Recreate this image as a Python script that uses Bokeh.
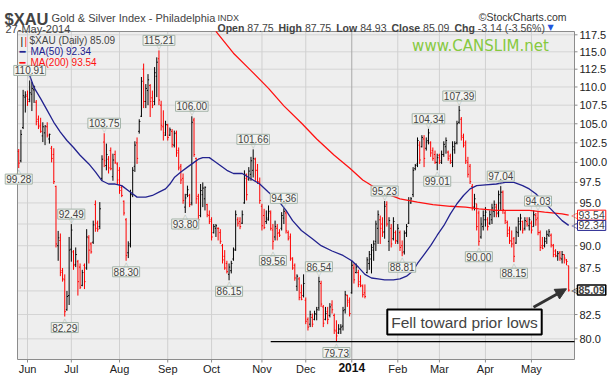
import math
from bokeh.plotting import figure
from bokeh.models import Range1d, Label, Arrow, NormalHead
from bokeh.embed import file_html
from bokeh.resources import INLINE

# ---------------- data (daily bars, index 0 = 28-May-2013 ... 251 = 27-May-2014) -------------
opens = [101.4,100.2,104.5,108.6,108.7,108.3,109.0,109.6,107.9,105.6,
104.8,103.4,103.8,104.6,103.0,101.8,101.0,97.0,90.0,90.6,
87.2,86.2,83.0,84.5,89.6,89.3,87.9,88.2,87.6,85.6,
87.8,87.5,90.9,90.2,90.4,94.8,92.6,92.2,98.0,102.6,
99.6,100.4,101.5,98.2,101.0,99.8,99.0,96.9,95.2,93.0,
89.2,90.2,96.0,99.5,102.5,104.0,106.0,112.5,108.0,109.5,
110.2,108.5,108.0,111.5,114.0,107.5,104.6,103.5,104.8,103.5,
104.0,102.2,103.8,101.5,99.5,98.0,94.5,96.0,95.9,95.0,
105.5,100.5,95.8,93.5,96.0,95.5,94.8,93.5,93.0,91.5,
92.0,92.0,91.5,90.0,88.8,88.0,86.8,87.2,88.5,89.6,
93.0,92.8,92.6,95.0,98.0,97.9,98.5,99.0,100.4,99.0,
97.5,94.6,93.5,92.8,93.0,93.8,91.8,91.0,92.0,91.5,
92.0,93.2,93.8,91.5,91.0,88.5,87.8,85.5,86.3,84.8,
84.5,84.0,82.0,81.5,82.2,82.0,82.5,83.2,85.8,83.3,
82.0,82.8,82.4,83.5,82.4,80.8,80.6,81.0,81.3,83.0,
84.5,83.8,84.8,87.5,87.0,87.0,86.0,85.5,84.8,87.0,
88.0,88.5,89.5,90.5,92.0,93.0,92.5,91.6,94.8,90.5,
92.0,90.8,91.5,90.5,91.5,90.0,89.3,91.5,92.6,95.0,
96.0,99.2,99.8,102.2,102.0,103.0,101.8,102.8,102.5,101.5,
101.0,100.0,100.9,100.0,101.0,102.0,101.3,100.8,100.0,101.6,
102.5,105.2,105.6,103.2,102.5,100.0,99.5,97.0,94.5,94.9,
93.8,91.0,92.2,93.0,93.0,92.6,93.0,94.0,94.5,93.8,
95.0,96.3,93.8,92.7,91.8,90.5,90.8,90.3,91.5,92.5,
92.8,92.0,92.8,92.3,92.6,92.2,93.5,93.2,91.5,90.0,
90.0,90.8,91.2,91.2,90.0,89.4,88.8,89.2,88.5,89.0,
88.4,87.75]

highs = [101.7,104.2,109.6,109.4,109.5,110.91,110.7,110.2,108.2,106.1,
105.8,105.2,104.8,105.2,103.7,102.1,101.8,97.1,91.7,91.4,
87.5,86.8,85.0,91.0,92.49,89.5,89.8,88.4,88.0,87.3,
88.0,91.9,91.2,90.4,92.9,95.3,92.9,95.1,100.9,103.75,
102.4,100.8,101.9,101.1,101.5,100.0,99.4,97.1,95.3,93.2,
90.5,96.6,99.4,102.7,103.2,105.6,111.4,113.3,110.4,111.8,
110.4,109.5,112.8,114.2,115.21,108.1,106.8,105.4,105.0,104.5,
104.3,104.1,104.1,101.9,99.8,98.6,96.1,97.1,96.1,106.00,
105.8,100.6,96.1,97.3,97.5,97.0,94.9,94.1,93.3,92.5,
92.5,92.1,91.9,90.2,89.5,88.3,88.0,88.3,89.8,94.1,
93.3,93.3,94.1,99.0,98.6,99.4,100.7,101.66,100.6,99.8,
98.1,94.9,94.3,94.1,94.7,94.1,92.5,92.9,92.5,91.9,
93.9,94.36,94.1,91.75,91.4,88.7,88.0,86.8,86.5,85.7,
86.8,84.3,82.2,82.9,82.6,82.9,83.3,86.54,86.1,83.5,
83.3,83.3,83.7,84.0,82.6,81.9,81.5,81.5,83.3,85.0,
84.6,84.3,88.3,88.0,88.0,87.3,86.7,85.7,85.7,88.7,
89.4,90.2,90.6,92.9,94.1,93.5,93.3,95.23,95.2,93.3,
92.5,93.3,91.75,92.5,91.75,90.6,91.75,92.5,95.7,95.7,
99.4,99.8,103.2,102.7,103.5,103.5,103.2,104.34,102.7,101.9,
101.5,101.1,101.1,101.5,102.7,103.2,101.5,101.1,102.7,102.7,
105.4,107.39,105.9,103.7,102.8,100.7,99.8,97.3,96.1,94.9,
94.1,93.3,94.1,94.5,93.3,94.1,94.9,95.3,94.9,96.5,
97.04,96.5,94.1,92.9,92.2,91.75,91.0,92.2,93.3,93.7,
92.9,93.3,93.3,93.3,92.9,94.1,93.8,94.03,91.75,91.0,
91.0,91.75,91.9,91.4,90.2,89.6,89.4,89.4,89.4,89.0,
88.5,87.75]

lows = [99.28,100.0,104.3,106.5,107.4,107.9,106.7,107.8,104.8,104.3,
103.8,102.6,102.2,103.2,102.4,100.0,97.3,89.8,88.3,86.6,
86.0,82.29,82.9,83.5,88.2,87.3,87.6,84.5,85.2,85.5,
85.2,87.3,88.0,89.1,90.2,91.6,91.6,91.9,97.7,99.4,
99.0,98.6,99.0,97.7,99.8,97.3,96.1,95.7,93.5,88.30,
88.6,89.8,95.7,98.8,99.8,103.7,105.9,107.1,107.1,107.5,
105.9,107.1,107.5,108.6,107.5,104.1,102.8,103.4,102.8,103.4,
101.9,101.9,100.7,99.0,97.3,94.9,93.80,95.7,94.5,94.7,
100.7,94.9,92.5,93.3,94.5,94.1,93.3,92.5,90.6,91.4,
91.0,90.6,90.2,88.0,87.3,86.9,86.15,86.9,88.3,89.4,
92.2,91.9,92.5,94.9,95.3,97.7,97.7,98.1,97.7,97.3,
94.9,91.75,91.9,92.5,92.9,91.75,89.56,90.6,90.6,91.0,
91.75,92.5,91.4,90.6,88.3,87.3,86.1,85.0,84.0,84.0,
84.3,81.5,80.85,81.2,81.2,81.9,81.9,82.9,83.3,81.2,
81.9,81.5,82.2,82.6,80.5,79.73,80.5,80.5,80.85,82.6,
83.3,82.3,84.7,85.8,86.9,85.4,85.4,84.3,84.2,86.9,
87.3,86.9,88.3,89.4,90.2,90.2,91.0,90.8,92.2,89.4,
89.8,90.6,90.2,90.2,89.4,88.81,89.0,91.0,92.5,94.9,
95.7,99.0,99.4,99.8,101.9,99.4,101.5,102.3,100.7,100.2,
99.8,99.01,99.8,99.8,100.7,101.1,100.2,99.8,99.4,101.1,
102.3,105.0,102.8,101.9,99.8,98.1,97.3,94.1,94.1,91.75,
90.00,90.8,91.75,92.2,91.75,92.4,92.5,93.3,93.3,93.3,
94.1,93.7,92.5,91.0,90.2,89.8,88.15,90.2,91.0,91.75,
91.4,91.75,92.2,91.75,91.4,92.2,92.3,91.2,89.4,89.6,
89.8,90.2,91.0,89.8,88.7,88.7,88.3,88.3,88.0,88.0,
87.8,84.93]

closes = [99.9,103.6,108.8,108.9,108.0,109.2,109.8,110.0,105.3,104.6,
104.0,104.6,104.7,103.5,103.6,100.5,97.6,90.2,90.9,87.0,
86.3,82.8,84.4,89.5,91.8,87.8,89.0,86.0,85.4,87.0,
86.0,91.0,89.5,89.3,92.4,92.0,91.9,94.3,100.4,100.2,
101.0,99.3,99.2,100.3,100.0,97.8,96.5,95.9,93.8,88.9,
90.0,96.0,99.0,102.2,100.5,105.3,110.8,108.0,109.8,111.0,
108.0,107.5,112.0,113.5,108.2,104.8,103.8,104.9,103.2,104.2,
102.3,103.7,101.2,99.3,97.8,95.3,95.6,96.6,94.8,105.2,
101.0,95.5,93.0,96.5,96.8,96.9,93.6,92.8,91.0,92.2,
92.3,92.0,90.5,88.4,87.5,87.1,87.6,88.0,89.5,93.6,
92.6,92.2,93.6,98.5,96.0,98.9,100.2,100.5,99.0,97.6,
95.3,92.3,92.1,93.2,94.0,92.0,90.5,92.2,91.4,91.2,
93.5,94.0,91.7,90.8,88.6,87.5,86.4,86.6,84.3,84.1,
85.8,81.8,81.2,82.5,81.5,82.6,83.0,86.0,83.6,81.6,
82.6,82.0,83.3,83.0,80.9,80.3,81.0,81.2,82.9,84.6,
84.0,82.6,87.8,86.2,87.6,85.7,85.6,84.6,84.4,88.4,
89.0,89.8,90.2,92.5,93.6,92.0,91.5,94.6,92.5,92.9,
90.2,92.8,90.6,92.0,89.8,89.2,91.4,92.2,95.3,95.5,
99.0,99.6,102.8,100.3,103.2,100.5,102.6,103.8,101.2,100.5,
100.0,100.6,100.2,101.0,102.3,102.8,100.5,100.2,102.0,102.4,
105.0,106.8,103.4,102.2,100.2,98.5,97.6,94.5,95.5,92.2,
90.5,92.5,93.5,93.9,92.2,93.6,94.4,94.8,93.7,96.0,
96.3,94.2,92.9,91.4,90.6,90.2,88.8,91.6,92.8,93.2,
91.8,92.9,92.5,93.0,91.8,93.6,93.0,91.5,89.8,89.7,
90.5,91.3,91.6,90.1,89.0,88.9,89.1,88.6,89.0,88.6,
88.23,85.09]

ma50_idx = [5,7,10,13,16,19,22,25,28,32,35,38,41,44,47,51,54,58,61,64,67,69,71,74,77,80,82,84,87,89,
            92,95,98,102,105,110,114,119,122,125,129,134,138,143,148,152,155,158,161,164,167,171,174,177,
            180,182,185,188,191,194,197,200,203,206,209,213,218,222,226,230,233,236,239,242,245,248,251]
ma50_val = [111.6,109.9,108.4,106.8,105.2,103.9,102.8,101.9,100.9,99.8,98.8,97.7,97.3,97.3,97.1,96.3,95.7,
            95.7,95.9,96.3,96.7,97.3,98.1,98.8,99.4,100.0,100.4,100.6,100.6,100.2,99.6,99.0,98.6,98.6,
            98.1,97.3,96.3,95.1,94.1,92.9,91.75,90.8,90.0,89.4,88.9,88.3,87.6,86.8,86.4,86.3,86.2,86.2,
            86.3,86.6,87.2,88.0,89.0,90.0,91.2,92.3,93.7,94.9,95.9,96.7,97.1,97.2,97.3,97.5,97.5,97.1,
            96.7,96.1,95.3,94.5,93.7,92.9,92.34]

ma200_idx = [90,98,106,114,121,129,136,144,151,157,166,174,182,189,197,204,210,218,225,233,240,248,251]
ma200_val = [118.0,114.8,112.3,109.8,107.4,105.1,103.0,100.9,99.3,97.8,96.3,95.5,95.1,94.8,94.6,
             94.5,94.3,94.1,94.1,94.1,93.9,93.7,93.54]

month_idx = [4, 24, 46, 68, 88, 111, 131, 152, 173, 192, 213, 234]
month_lbl = ["Jun", "Jul", "Aug", "Sep", "Oct", "Nov", "Dec", "2014", "Feb", "Mar", "Apr", "May"]
ytick_vals = [80.0, 82.5, 85.0, 87.5, 90.0, 92.5, 95.0, 97.5, 100.0, 102.5, 105.0, 107.5, 110.0, 112.5, 115.0, 117.5]

hi_marks = [5, 24, 39, 64, 79, 107, 121, 137, 167, 187, 201, 220, 237]
lo_marks = [0, 21, 49, 76, 96, 116, 145, 175, 191, 210, 226]

# ---------------- canvas geometry (pixels -> data) ----------------
W, H = 613, 375
BAR_PX, BAR0 = 2.191, 18.24          # px per trading day, px of first bar
PX_PER_LN, Y_REF_PX, Y_REF = 791.0, 34.3, 117.5


def xd(px):
    return (px - BAR0) / BAR_PX


def yd(py):
    return Y_REF * math.exp(-(py - Y_REF_PX) / PX_PER_LN)


PL, PR, PT, PB = 17, 574, 31, 359     # plot-area rectangle in pixels
XL, XR, YT, YB = xd(PL), xd(PR), yd(PT), yd(PB)
FONT = "Liberation Sans"

p = figure(width=W, height=H, x_range=Range1d(xd(0), xd(W)), y_range=Range1d(yd(H), yd(0)),
           y_axis_type="log", x_axis_location=None, y_axis_location=None,
           output_backend="svg", toolbar_location=None, title=None, min_border=0)
p.background_fill_color = "white"
p.border_fill_color = "white"
p.outline_line_color = None
p.xgrid.visible = False
p.ygrid.visible = False

# plot area background + grid
p.quad(left=[XL], right=[XR], top=[YT], bottom=[YB], fill_color="#eeeeee", line_color=None)
p.segment(x0=[XL] * len(ytick_vals), x1=[XR] * len(ytick_vals), y0=ytick_vals, y1=ytick_vals,
          line_color="#d4d4d4", line_width=1)
p.segment(x0=month_idx, x1=month_idx, y0=[YB] * len(month_idx), y1=[YT] * len(month_idx),
          line_color=["#a8a8a8" if l == "2014" else "#d0d0d0" for l in month_lbl], line_width=1)
p.quad(left=[XL], right=[XR], top=[YT], bottom=[YB], fill_alpha=0, line_color="#8c8c8c", line_width=1)
# axis ticks
p.segment(x0=[XR] * len(ytick_vals), x1=[xd(PR + 3)] * len(ytick_vals), y0=ytick_vals, y1=ytick_vals,
          line_color="#8c8c8c")
p.segment(x0=month_idx, x1=month_idx, y0=[YB] * len(month_idx), y1=[yd(PB + 3)] * len(month_idx),
          line_color="#8c8c8c")


def lab(**kw):
    kw.setdefault("text_font", FONT)
    p.add_layout(Label(**kw))


def at(px, py, **kw):
    lab(x=xd(px), y=yd(py), **kw)


for t in ytick_vals:
    lab(x=XR, y=t, x_offset=5, text=f"{t:.1f}", text_baseline="middle", text_font_size="11px",
        text_color="#222222")
for m, l in zip(month_idx, month_lbl):
    bold = l == "2014"
    lab(x=m, y=YB, y_offset=-3, text=l, text_align="center", text_baseline="top",
        text_font_size="12px" if bold else "11px", text_font_style="bold" if bold else "normal",
        text_color="#111111" if bold else "#222222")

# bars
n = len(closes)
idx = list(range(n))
colors = []
for i in range(n):
    prev = closes[i - 1] if i > 0 else opens[0]
    colors.append("#000000" if closes[i] >= prev else "#ff0000")
p.segment(x0=idx, y0=lows, x1=idx, y1=highs, line_color=colors, line_width=1)
p.segment(x0=[i - 0.5 for i in idx], y0=opens, x1=idx, y1=opens, line_color=colors, line_width=1)
p.segment(x0=idx, y0=closes, x1=[i + 0.5 for i in idx], y1=closes, line_color=colors, line_width=1)

# moving averages
p.line(ma200_idx, ma200_val, line_color="#ff1111", line_width=1.3)
p.line(ma50_idx, ma50_val, line_color="#22228f", line_width=1.3)

# prior-low line
low_min = min(lows)
p.segment(x0=[115], y0=[low_min], x1=[XR], y1=[low_min], line_color="black", line_width=1.2)

# peak / trough labels with small pointers
BOX = dict(text_font_size="10px", background_fill_color="#f4f4f1", border_line_color="#a3b3a8", padding=1)
for i in hi_marks:
    lab(x=i, y=highs[i], text=f"{highs[i]:.2f}", text_align="center", text_baseline="bottom",
        y_offset=5, **BOX)
    lab(x=i, y=highs[i], text="\u25bd", text_align="center", text_baseline="bottom", y_offset=-1,
        text_font_size="7px", text_color="#a3b3a8", text_font="DejaVu Sans")
for i in lo_marks:
    lab(x=i, y=lows[i], text=f"{lows[i]:.2f}", text_align="center", text_baseline="top",
        y_offset=-6, **BOX)
    lab(x=i, y=lows[i], text="\u25b3", text_align="center", text_baseline="top", y_offset=0,
        text_font_size="7px", text_color="#a3b3a8", text_font="DejaVu Sans")

# header
at(4, 18.5, text="$XAU", text_font_size="16.5px", text_font_style="bold", text_baseline="alphabetic")
at(51, 17, text="Gold & Silver Index - Philadelphia", text_font_size="11px", text_baseline="alphabetic")
at(217, 17, text="INDX", text_font_size="9px", text_baseline="alphabetic")
at(566, 16, text="\u00a9StockCharts.com", text_align="right", text_font_size="10.5px",
   text_color="#333333", text_baseline="alphabetic")
at(5, 28.5, text="27-May-2014", text_font_size="11px", text_baseline="alphabetic")
row2 = [(217, "Open", "bold"), (246.8, f"{opens[-1]:.2f}", "normal"), (278, "High", "bold"),
        (304.4, f"{highs[-1]:.2f}", "normal"), (335.7, "Low", "bold"), (359.7, f"{lows[-1]:.2f}", "normal"),
        (391, "Close", "bold"), (422.6, f"{closes[-1]:.2f}", "normal"), (454, "Chg", "bold"),
        (477.3, f"{closes[-1]-closes[-2]:.2f} ({(closes[-1]/closes[-2]-1)*100:.2f}%)", "normal")]
for rx, t, st in row2:
    at(rx, 27, text=t, text_font_size="10.5px", text_font_style=st, text_baseline="alphabetic")
at(547, 26.5, text="\u25bc", text_font_size="8px", text_color="#2255dd", text_baseline="alphabetic",
   text_font="DejaVu Sans")

# legend (inside the plot area, top-left)
at(20, 41, text="|", text_font_size="10px", text_color="black", text_baseline="alphabetic")
at(24, 41, text="|", text_font_size="10px", text_color="#ff1111", text_baseline="alphabetic")
at(29, 40, text=f"$XAU (Daily) {closes[-1]:.2f}", text_font_size="10px", text_baseline="alphabetic")
at(19, 51, text="\u2501", text_font_size="10px", text_color="#22228f", text_baseline="alphabetic",
   text_font="DejaVu Sans")
at(30, 51, text=f"MA(50) {ma50_val[-1]:.2f}", text_font_size="10px", text_color="#22228f",
   text_baseline="alphabetic")
at(19, 62, text="\u2501", text_font_size="10px", text_color="#ff1111", text_baseline="alphabetic",
   text_font="DejaVu Sans")
at(30, 62, text=f"MA(200) {ma200_val[-1]:.2f}", text_font_size="10px", text_color="#ff1111",
   text_baseline="alphabetic")

# watermark
at(480, 45, text="www.CANSLIM.net", text_align="center", text_baseline="middle",
   text_font_size="15px", text_color="#86c940", text_font="DejaVu Sans")

# right-edge value tags with pointers
TAG = dict(x=XR, x_offset=3, text_baseline="middle", text_font_size="10.5px",
           background_fill_color="white", padding=1)
for v, c in [(ma200_val[-1], "#ff1111"), (ma50_val[-1], "#22228f"), (closes[-1], "black")]:
    lab(x=XR, y=v, x_offset=-3, text="\u25c1", text_baseline="middle", text_font_size="8px",
        text_color=c, text_font="DejaVu Sans")
lab(y=ma200_val[-1], text=f"{ma200_val[-1]:.2f}", border_line_color="#ff1111", **TAG)
lab(y=ma50_val[-1], text=f"{ma50_val[-1]:.2f}", border_line_color="#22228f", **TAG)
lab(y=closes[-1], text=f"{closes[-1]:.2f}", text_font_style="bold", border_line_color="black",
    border_line_width=1.5, **TAG)

# callout
at(464 + 3, 321.5 + 3, text="Fell toward prior lows", text_align="center",
   text_baseline="middle", text_font_size="15.5px", text_alpha=0.0,
   background_fill_color="#9a9a9a", padding=5)
at(464, 321.5, text="Fell toward prior lows", text_align="center", text_baseline="middle",
   text_font_size="15.5px", background_fill_color="white", border_line_color="black",
   border_line_width=2, padding=4)
p.add_layout(Arrow(end=NormalHead(size=11, fill_color="#333333", line_color="#333333"),
                   x_start=xd(533), y_start=yd(306.7), x_end=xd(566), y_end=yd(288.3),
                   line_color="#333333", line_width=3))

open("out.html", "w").write(file_html(p, INLINE))
